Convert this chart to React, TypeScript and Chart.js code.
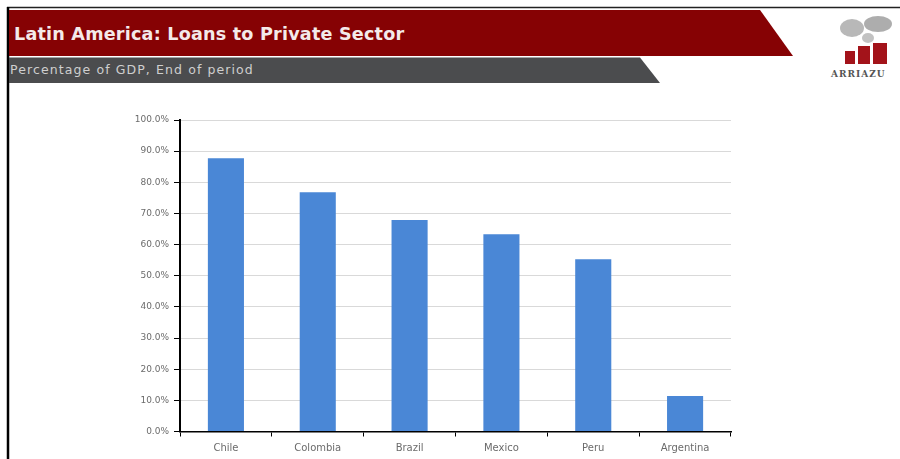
import React, { useEffect, useRef } from "react";
import { Chart, registerables } from "chart.js";

Chart.register(...registerables);

const categories = ["Chile", "Colombia", "Brazil", "Mexico", "Peru", "Argentina"];
const loansPctGdp = [87.7, 76.8, 67.9, 63.3, 55.3, 11.4];
const yTickValues = [0, 10, 20, 30, 40, 50, 60, 70, 80, 90, 100];
const titleText = "Latin America: Loans to Private Sector";
const subtitleText = "Percentage of GDP, End of period";
const logoText = "ARRIAZU";

const FONT = "'DejaVu Sans', sans-serif";

export default function App() {
  const canvasRef = useRef<HTMLCanvasElement | null>(null);

  useEffect(() => {
    document.body.style.margin = "0";
    const canvas = canvasRef.current;
    if (!canvas) return;
    const chart = new Chart(canvas, {
      type: "bar",
      data: {
        labels: categories,
        datasets: [
          {
            data: loansPctGdp,
            backgroundColor: "#4a87d6",
            borderWidth: 0,
            categoryPercentage: 1,
            barPercentage: 0.393,
          },
        ],
      },
      options: {
        animation: false,
        responsive: false,
        maintainAspectRatio: false,
        layout: { padding: { left: 0, right: 169, top: 20, bottom: 0 } },
        plugins: { legend: { display: false }, tooltip: { enabled: false } },
        scales: {
          x: {
            offset: true,
            grid: {
              offset: true,
              display: true,
              drawOnChartArea: true,
              color: (ctx: any) => (ctx.index === categories.length ? "#d9d9d9" : "rgba(0,0,0,0)"),
              tickColor: "#000",
              tickLength: 5,
              lineWidth: 1,
            },
            border: { display: true, color: "#000", width: 1.5 },
            ticks: {
              color: "#6b6b6b",
              font: { family: FONT, size: 10 },
              padding: 6,
              maxRotation: 0,
            },
            afterFit: (scale: any) => {
              scale.height = 27.5;
            },
          },
          y: {
            min: 0,
            max: 100,
            afterBuildTicks: (scale: any) => {
              scale.ticks = yTickValues.map((v) => ({ value: v }));
            },
            grid: {
              color: "#d9d9d9",
              tickColor: "#000",
              tickLength: 6,
              lineWidth: 1,
            },
            border: { display: true, color: "#000", width: 2 },
            ticks: {
              color: "#6b6b6b",
              font: { family: FONT, size: 9 },
              padding: 5,
              callback: (v: any) => Number(v).toFixed(1) + "%",
            },
            afterFit: (scale: any) => {
              scale.width = 180;
            },
          },
        },
      },
    });
    return () => chart.destroy();
  }, []);

  return (
    <div style={{ position: "absolute", left: 0, top: 0, width: 900, height: 459, background: "#fff", overflow: "hidden" }}>
      <svg width={900} height={459} style={{ position: "absolute", left: 0, top: 0 }}>
        <line x1={7} y1={7.5} x2={900} y2={7.5} stroke="#222" strokeWidth={1.5} />
        <line x1={8} y1={7} x2={8} y2={459} stroke="#000" strokeWidth={2.5} />
        <polygon points="9,10 760,10 793,56 9,56" fill="#860204" />
        <polygon points="9,57.5 640,57.5 660,83 9,83" fill="#4b4c4e" />
        <text x={14} y={39.5} fill="#f4eaea" fontFamily="'DejaVu Sans', sans-serif" fontWeight="bold" fontSize={17.6} letterSpacing={0.2}>
          {titleText}
        </text>
        <text x={10} y={74} fill="#cfcfcf" fontFamily="'DejaVu Sans', sans-serif" fontSize={12.5} letterSpacing={1.1}>
          {subtitleText}
        </text>
        {/* logo */}
        <g>
          <ellipse cx={852} cy={28} rx={12} ry={9} fill="#9a9a9a" opacity={0.7} />
          <ellipse cx={878} cy={24} rx={14} ry={8} fill="#8a8a8a" opacity={0.7} />
          <ellipse cx={868} cy={38} rx={6} ry={5} fill="#9a9a9a" opacity={0.6} />
          <rect x={845} y={51} width={10} height={13} fill="#a3131a" />
          <rect x={858} y={46} width={12} height={18} fill="#a3131a" />
          <rect x={873} y={43} width={14} height={21} fill="#a3131a" />
          <text x={831} y={77} fill="#555" fontFamily="'DejaVu Serif', serif" fontWeight="bold" fontSize={9} letterSpacing={1}>
            {logoText}
          </text>
        </g>
      </svg>
      <canvas
        ref={canvasRef}
        width={900}
        height={359}
        style={{ position: "absolute", left: 0, top: 100, width: 900, height: 359 }}
      />
    </div>
  );
}
